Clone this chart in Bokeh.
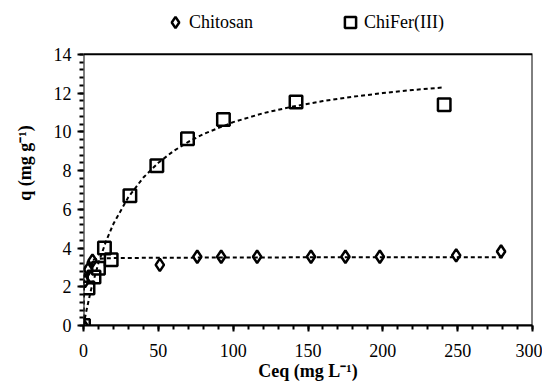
from bokeh.plotting import figure
from bokeh.models import Legend, LegendItem, Range1d, FixedTicker, BoxAnnotation
from bokeh.embed import file_html
from bokeh.resources import INLINE

# Chitosan data (diamonds)
chi_x = [0, 1, 3, 6, 51, 76, 92, 116, 152, 175, 198, 249, 279]
chi_y = [0, 2.3, 2.9, 3.35, 3.13, 3.55, 3.55, 3.55, 3.55, 3.55, 3.55, 3.62, 3.82]

# ChiFer(III) data (squares)
fer_x = [0, 3, 7, 10, 14, 18.5, 31, 49, 69.5, 93.5, 142, 241]
fer_y = [0, 1.93, 2.5, 2.95, 4.0, 3.4, 6.7, 8.25, 9.64, 10.63, 11.54, 11.4]

# Fitted curves
chi_fit_x = [0, 0.25, 0.5, 1, 2, 3, 5, 10, 20, 50, 100, 150, 200, 250, 280]
chi_fit_y = [0, 1.9, 2.5, 2.93, 3.2, 3.3, 3.38, 3.45, 3.48, 3.5, 3.51, 3.52, 3.52, 3.52, 3.52]

fer_fit_x = [0, 2, 5, 10, 15, 20, 30, 40, 50, 60, 70, 80, 100, 120, 140, 160, 180, 200, 220, 240]
fer_fit_y = [0, 0.79, 1.83, 3.23, 4.34, 5.25, 6.63, 7.64, 8.4, 9.0, 9.48, 9.88, 10.5, 10.96, 11.31,
             11.59, 11.81, 12.0, 12.16, 12.29]

x_ticks = [0, 50, 100, 150, 200, 250, 300]
y_ticks = [0, 2, 4, 6, 8, 10, 12, 14]
x_max, y_max = 300, 14

FONT = "Liberation Serif, Times New Roman, serif"

# frame extends above the axes box to leave room for the legend
p = figure(width=542, height=383, output_backend="svg", toolbar_location=None,
           x_range=Range1d(0, x_max), y_range=Range1d(0, 16.78),
           min_border_left=83, min_border_right=10, min_border_top=0, min_border_bottom=57)

p.xgrid.visible = False
p.ygrid.visible = False
p.outline_line_color = None
p.background_fill_color = "white"
p.border_fill_color = "white"

for ax in (p.xaxis[0], p.yaxis[0]):
    ax.axis_line_width = 2
    ax.axis_line_color = "black"
    ax.major_tick_in = 0
    ax.major_tick_out = 6
    ax.minor_tick_in = 0
    ax.minor_tick_out = 4
    ax.major_tick_line_width = 2
    ax.minor_tick_line_width = 2
    ax.major_label_text_font = FONT
    ax.major_label_text_font_size = "18px"
    ax.major_label_text_color = "black"
    ax.axis_label_text_font = FONT
    ax.axis_label_text_font_size = "18px"
    ax.axis_label_text_font_style = "bold"
    ax.axis_label_text_color = "black"
p.yaxis[0].axis_line_color = None

p.xaxis[0].ticker = FixedTicker(ticks=x_ticks, minor_ticks=list(range(0, 301, 10)))
p.yaxis[0].ticker = FixedTicker(ticks=y_ticks, minor_ticks=[i * 0.4 for i in range(36)])
p.xaxis[0].axis_label = "Ceq (mg L\u207b\u00b9)"
p.yaxis[0].axis_label = "q (mg g\u207b\u00b9)"
p.xaxis[0].major_label_standoff = 12
p.yaxis[0].major_label_standoff = 6
p.xaxis[0].axis_label_standoff = 1
p.yaxis[0].axis_label_standoff = 16

# axes box
p.add_layout(BoxAnnotation(left=0, right=x_max, bottom=0, top=y_max, fill_alpha=0,
                           line_color="black", line_width=2, line_alpha=1))

p.line(chi_fit_x, chi_fit_y, line_color="black", line_width=2, line_dash="4 3")
p.line(fer_fit_x, fer_fit_y, line_color="black", line_width=2, line_dash="4 3")

r_chi = p.scatter(chi_x, chi_y, marker="diamond", size=12.5, line_color="black", line_width=2.5,
                  fill_alpha=0)
r_fer = p.scatter(fer_x, fer_y, marker="square", size=12.5, line_color="black", line_width=2.5,
                  fill_alpha=0)

legend = Legend(items=[LegendItem(label="Chitosan", renderers=[r_chi]),
                       LegendItem(label="ChiFer(III)", renderers=[r_fer])],
                location=(78, 289), orientation="horizontal",
                padding=0, margin=0, spacing=67, glyph_width=28, glyph_height=28,
                label_width=80, label_standoff=-9, label_text_font=FONT,
                label_text_font_size="18px", label_text_color="black",
                border_line_color=None, background_fill_alpha=0)
p.add_layout(legend, "center")

open("out.html", "w").write(file_html(p, INLINE))
